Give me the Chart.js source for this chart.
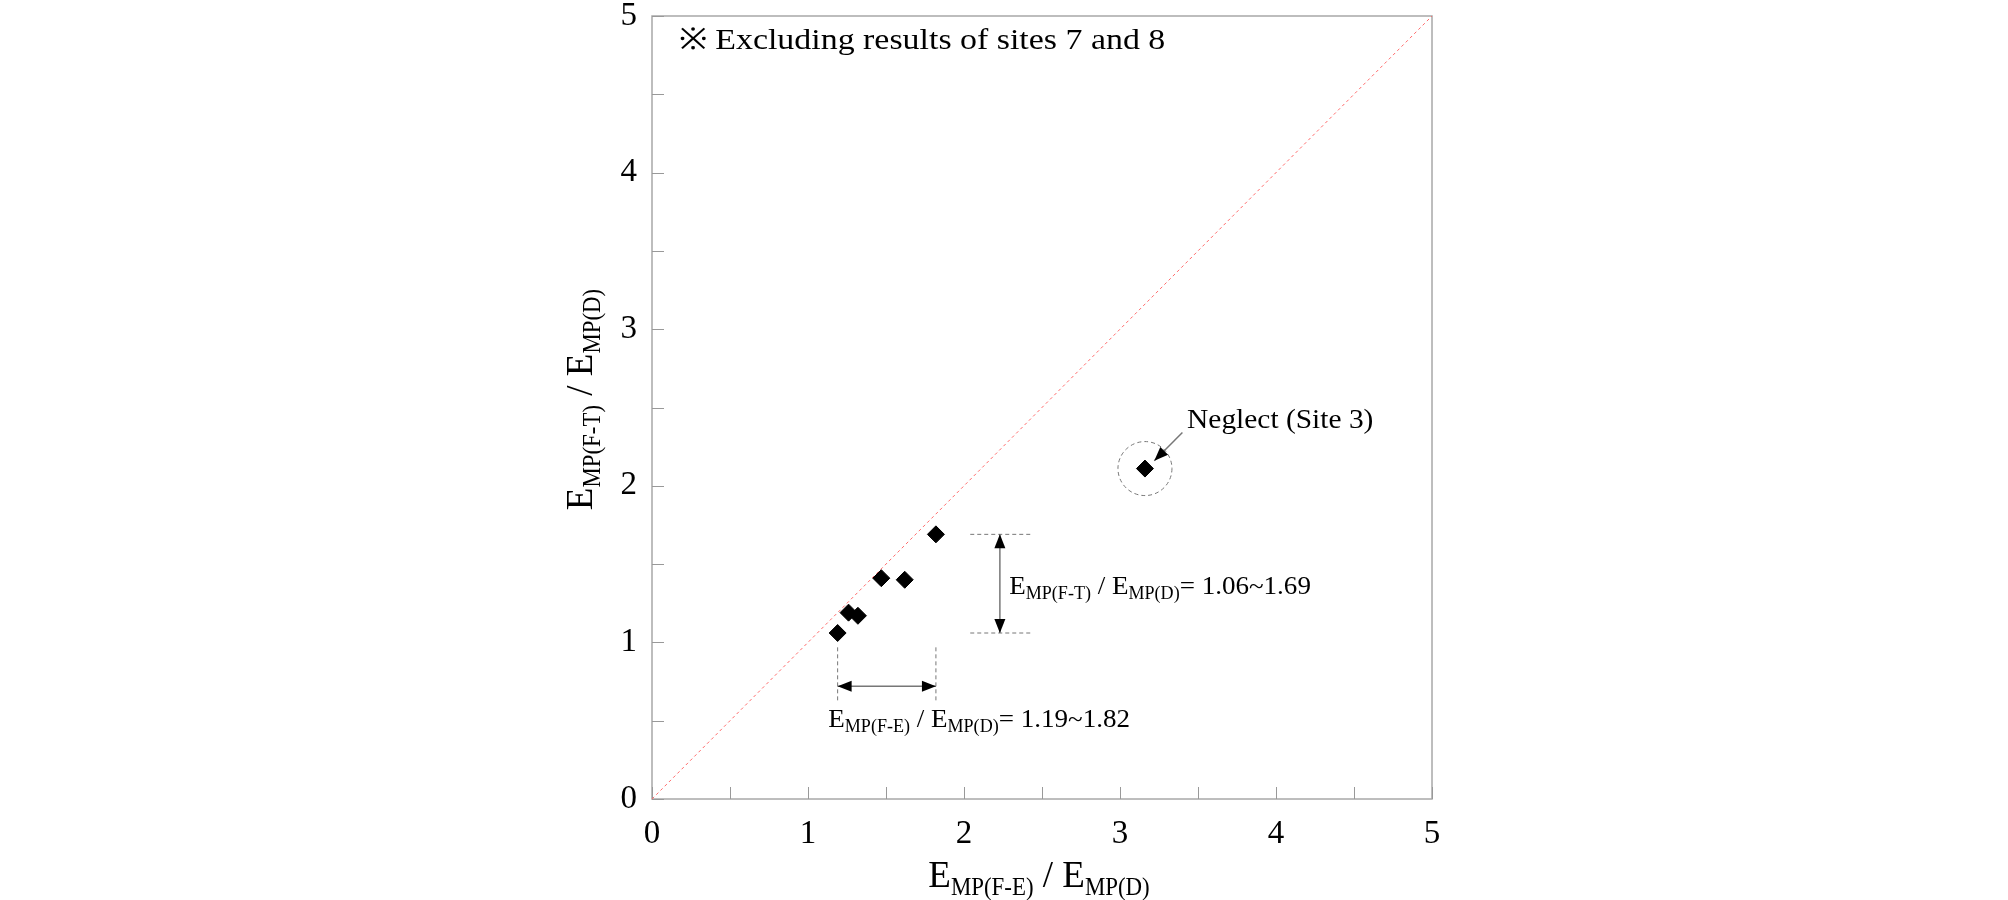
<!DOCTYPE html>
<html>
<head>
<meta charset="utf-8">
<script src="https://cdn.jsdelivr.net/npm/chart.js@4.4.0/dist/chart.umd.min.js"></script>
<style>
  body { margin: 0; background: #fff; }
  #wrap { width: 2008px; height: 900px; }
</style>
</head>
<body>
<div id="wrap"><canvas id="myChart" width="2008" height="900"></canvas></div>
<script>
// site results
const siteX = [1.19, 1.26, 1.32, 1.47, 1.62, 1.82];     // E_MP(F-E) / E_MP(D)
const siteY = [1.06, 1.19, 1.17, 1.41, 1.40, 1.69];     // E_MP(F-T) / E_MP(D)
const neglectX = [3.16];                                // site 3
const neglectY = [2.11];
const diagonal = [0, 5];                                // 1:1 line
const tickLabels = ['0', '1', '2', '3', '4', '5'];

const noteText = '※ Excluding results of sites 7 and 8';
const neglectText = 'Neglect (Site 3)';

// annotation anchors, in data units
const notePos = [0.17, 4.79];
const neglectLabelPos = [3.43, 2.37];
const neglectArrowFrom = [3.40, 2.34];
const neglectArrowTo = [3.22, 2.16];
const yRangeArrowX = 2.23;
const yRangeGuide = [2.04, 2.43];
const yRangeLabelPos = [2.29, 1.31];
const xRangeArrowY = 0.72;
const xRangeGuide = [0.63, 0.97];
const xRangeLabelPos = [1.13, 0.46];

const serif = '"Liberation Serif", "Times New Roman", serif';

// draws text with subscripts: parts = [text, size, dy, stretch]
function richText(ctx, parts, x, y, align, rotate) {
  ctx.save();
  ctx.translate(x, y);
  if (rotate) ctx.rotate(-Math.PI / 2);
  ctx.textBaseline = 'alphabetic';
  ctx.textAlign = 'left';
  ctx.fillStyle = '#000';
  let total = 0;
  parts.forEach(p => {
    ctx.font = p[1] + 'px ' + serif;
    total += ctx.measureText(p[0]).width * (p[3] || 1);
  });
  let cx = align === 'center' ? -total / 2 : 0;
  parts.forEach(p => {
    ctx.font = p[1] + 'px ' + serif;
    const sq = p[3] || 1;
    ctx.save();
    ctx.translate(cx, p[2]);
    ctx.scale(sq, 1);
    ctx.fillText(p[0], 0, 0);
    ctx.restore();
    cx += ctx.measureText(p[0]).width * sq;
  });
  ctx.restore();
}

function head(ctx, x1, y1, x2, y2) {
  const a = Math.atan2(y2 - y1, x2 - x1);
  const len = 14, hw = 5.5;
  ctx.beginPath();
  ctx.moveTo(x2, y2);
  ctx.lineTo(x2 - len * Math.cos(a) + hw * Math.sin(a), y2 - len * Math.sin(a) - hw * Math.cos(a));
  ctx.lineTo(x2 - len * Math.cos(a) - hw * Math.sin(a), y2 - len * Math.sin(a) + hw * Math.cos(a));
  ctx.closePath();
  ctx.fillStyle = '#000';
  ctx.fill();
}

function arrow(ctx, x1, y1, x2, y2, both) {
  ctx.save();
  ctx.strokeStyle = '#777';
  ctx.lineWidth = 1.5;
  ctx.setLineDash([]);
  ctx.beginPath();
  ctx.moveTo(x1, y1);
  ctx.lineTo(x2, y2);
  ctx.stroke();
  head(ctx, x1, y1, x2, y2);
  if (both) head(ctx, x2, y2, x1, y1);
  ctx.restore();
}

function dashed(ctx, x1, y1, x2, y2) {
  ctx.save();
  ctx.strokeStyle = '#777';
  ctx.lineWidth = 1;
  ctx.setLineDash([4, 3]);
  ctx.beginPath();
  ctx.moveTo(x1, y1);
  ctx.lineTo(x2, y2);
  ctx.stroke();
  ctx.restore();
}

const decorations = {
  id: 'decorations',
  beforeDatasetsDraw(chart) {
    const ctx = chart.ctx, a = chart.chartArea;
    const xs = chart.scales.x, ys = chart.scales.y;
    ctx.save();
    // frame
    ctx.strokeStyle = '#a8a8a8';
    ctx.lineWidth = 1.5;
    ctx.strokeRect(a.left, a.top, a.right - a.left, a.bottom - a.top);
    // inward ticks every 0.5
    ctx.lineWidth = 1;
    ctx.strokeStyle = '#999';
    ctx.beginPath();
    xs.ticks.forEach(t => {
      const px = Math.round(xs.getPixelForValue(t.value)) + 0.5;
      ctx.moveTo(px, a.bottom);
      ctx.lineTo(px, a.bottom - 12);
    });
    ys.ticks.forEach(t => {
      const py = Math.round(ys.getPixelForValue(t.value)) + 0.5;
      ctx.moveTo(a.left, py);
      ctx.lineTo(a.left + 12, py);
    });
    ctx.stroke();
    ctx.restore();
  },
  afterDatasetsDraw(chart) {
    const ctx = chart.ctx, a = chart.chartArea;
    const xs = chart.scales.x, ys = chart.scales.y;
    const X = v => xs.getPixelForValue(v), Y = v => ys.getPixelForValue(v);

    // y-range guides
    const yMin = Math.min(...siteY), yMax = Math.max(...siteY);
    dashed(ctx, X(yRangeGuide[0]), Y(yMax), X(yRangeGuide[1]), Y(yMax));
    dashed(ctx, X(yRangeGuide[0]), Y(yMin), X(yRangeGuide[1]), Y(yMin));
    arrow(ctx, X(yRangeArrowX), Y(yMin), X(yRangeArrowX), Y(yMax), true);

    // x-range guides
    const xMin = Math.min(...siteX), xMax = Math.max(...siteX);
    dashed(ctx, X(xMin), Y(xRangeGuide[0]), X(xMin), Y(xRangeGuide[1]));
    dashed(ctx, X(xMax), Y(xRangeGuide[0]), X(xMax), Y(xRangeGuide[1]));
    arrow(ctx, X(xMin), Y(xRangeArrowY), X(xMax), Y(xRangeArrowY), true);

    // circle round site 3
    ctx.save();
    ctx.strokeStyle = '#777';
    ctx.lineWidth = 1;
    ctx.setLineDash([4, 3]);
    ctx.beginPath();
    ctx.arc(X(neglectX[0]), Y(neglectY[0]), 27, 0, Math.PI * 2);
    ctx.stroke();
    ctx.restore();
    arrow(ctx, X(neglectArrowFrom[0]), Y(neglectArrowFrom[1]), X(neglectArrowTo[0]), Y(neglectArrowTo[1]), false);

    // labels
    richText(ctx, [[noteText, 30, 0, 1.13]], X(notePos[0]), Y(notePos[1]), 'left');
    richText(ctx, [[neglectText, 27, 0, 1.09]], X(neglectLabelPos[0]), Y(neglectLabelPos[1]), 'left');

    const fmt = v => v.toFixed(2);
    richText(ctx, [['E', 26, 0, 1.04], ['MP(F-T)', 19, 5, 0.95], [' / ', 26, 0, 1.04], ['E', 26, 0, 1.04], ['MP(D)', 19, 5, 0.95],
      ['= ' + fmt(yMin) + '~' + fmt(yMax), 26, 0, 1.04]], X(yRangeLabelPos[0]), Y(yRangeLabelPos[1]), 'left');
    richText(ctx, [['E', 26, 0, 1.04], ['MP(F-E)', 19, 5, 0.95], [' / ', 26, 0, 1.04], ['E', 26, 0, 1.04], ['MP(D)', 19, 5, 0.95],
      ['= ' + fmt(xMin) + '~' + fmt(xMax), 26, 0, 1.04]], X(xRangeLabelPos[0]), Y(xRangeLabelPos[1]), 'left');

    // axis titles
    richText(ctx, [['E', 37, 0], ['MP(F-E)', 26, 8, 0.88], [' / ', 37, 0], ['E', 37, 0], ['MP(D)', 26, 8, 0.88]],
      (a.left + a.right) / 2 - 3, 887, 'center');
    richText(ctx, [['E', 37, 0], ['MP(F-T)', 26, 8, 0.88], [' / ', 37, 0], ['E', 37, 0], ['MP(D)', 26, 8, 0.88]],
      592, (a.top + a.bottom) / 2 - 8, 'center', true);
  }
};

const tickFont = { family: serif, size: 33, lineHeight: 0.9 };
const intLabel = v => (Number.isInteger(v) ? tickLabels[v] : '');
// keep the plot box fixed: ignore label overflow padding
const noOverflow = s => { s.paddingTop = 0; s.paddingBottom = 0; s.paddingLeft = 0; s.paddingRight = 0; };

const ctx = document.getElementById('myChart').getContext('2d');
const chart = new Chart(ctx, {
  type: 'scatter',
  data: {
    datasets: [
      {
        type: 'line',
        label: '1:1',
        data: diagonal.map(v => ({ x: v, y: v })),
        borderColor: '#ff6a6a',
        borderWidth: 1,
        borderDash: [3, 3],
        pointRadius: 0,
        order: 2
      },
      {
        label: 'Sites',
        data: siteX.map((x, i) => ({ x: x, y: siteY[i] })),
        pointStyle: 'rectRot',
        pointRadius: 8.5,
        backgroundColor: '#000',
        borderColor: '#000',
        order: 1
      },
      {
        label: 'Site 3',
        data: neglectX.map((x, i) => ({ x: x, y: neglectY[i] })),
        pointStyle: 'rectRot',
        pointRadius: 8.5,
        backgroundColor: '#000',
        borderColor: '#000',
        order: 1
      }
    ]
  },
  options: {
    responsive: false,
    animation: false,
    devicePixelRatio: 1,
    layout: { padding: { left: 560, right: 576, top: 16, bottom: 0 } },
    plugins: { legend: { display: false }, tooltip: { enabled: false } },
    scales: {
      x: {
        type: 'linear', min: 0, max: 5,
        grid: { display: false },
        border: { display: false },
        ticks: { stepSize: 0.5, autoSkip: false, maxRotation: 0, padding: 12, color: '#000', font: tickFont, callback: intLabel },
        afterFit: s => { s.height = 101; noOverflow(s); }
      },
      y: {
        type: 'linear', min: 0, max: 5,
        grid: { display: false },
        border: { display: false },
        ticks: { stepSize: 0.5, autoSkip: false, padding: 7, color: '#000', font: tickFont, callback: intLabel },
        afterFit: s => { s.width = 92; noOverflow(s); }
      }
    }
  },
  plugins: [decorations]
});
</script>
</body>
</html>
